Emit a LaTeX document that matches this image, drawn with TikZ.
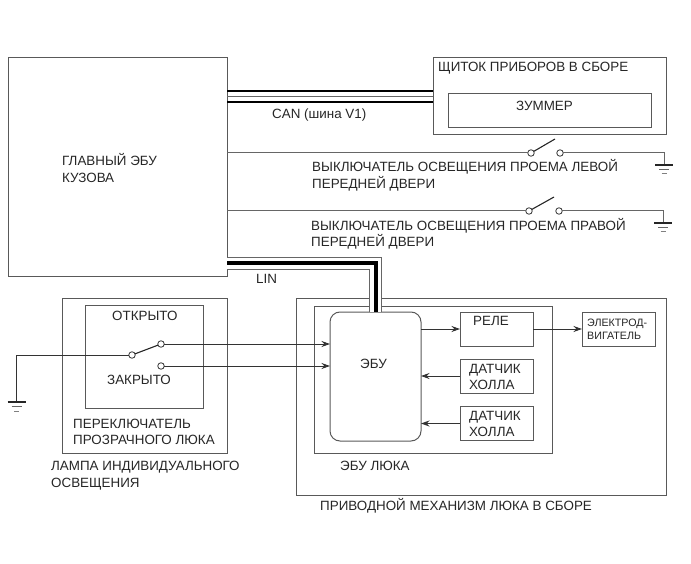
\documentclass[tikz,border=0pt]{standalone}
\usepackage{fontspec}
\setmainfont{Liberation Sans}
\usetikzlibrary{arrows.meta, positioning}

\definecolor{boxgray}{gray}{0.35}
\definecolor{wiregray}{gray}{0.4}

\tikzset{
	box/.style={draw=boxgray, line width=1pt, inner sep=0pt, outer sep=0pt},
	lbl/.style={anchor=west, inner sep=0pt, yshift=-0.8pt, align=left, text=black!85, font=\fontsize{13.4}{16.5}\selectfont},
	contact/.style={circle, draw=black!80, fill=white, line width=0.8pt, inner sep=0pt, minimum size=6.5pt, outer sep=0pt},
	wire/.style={draw=wiregray, line width=1pt},
	sigwire/.style={draw=black!80, line width=0.9pt, -{Stealth[length=8.5pt,width=6pt]}},
	blade/.style={draw=black!85, line width=1.1pt},
	gnd/.pic={
		\draw[black!85, line width=1.3pt] (-9,0) -- (9,0);
		\draw[black!60, line width=1pt] (-5,4.5) -- (5,4.5);
		\draw[black!50, line width=1pt] (-2.5,9) -- (2.5,9);
	}
}

\begin{document}
\begin{tikzpicture}[x=1pt, y=-1pt]
		\useasboundingbox (0,0) rectangle (691,564);
		
		\node[box, minimum width=219pt, minimum height=219pt] (mainecu) at (117.5,167.5) {};
		\node[box, minimum width=233pt, minimum height=77pt] (panel) at (549.5,96.5) {};
		\node[box, minimum width=203pt, minimum height=34pt] (buzzer) at (549.5,111) {};
		
		\node[box, minimum width=165pt, minimum height=155pt] (lamp) at (144.5,375.5) {};
		\node[box, minimum width=118.5pt, minimum height=103pt] (switchbox) at (144.25,356.5) {};
		
		\node[box, minimum width=370pt, minimum height=197pt] (actuator) at (481,396.5) {};
		\node[box, minimum width=238pt, minimum height=147pt] (roofecu) at (433,379.5) {};
		\node[box, rounded corners=10pt, minimum width=91pt, minimum height=129pt] (ecu) at (375.5,376.5) {};
		\node[box, minimum width=73pt, minimum height=34pt] (relay) at (496.5,329) {};
		\node[box, minimum width=73pt, minimum height=34pt] (motor) at (618.5,329) {};
		\node[box, minimum width=73pt, minimum height=34pt] (hallone) at (496.5,376) {};
		\node[box, minimum width=73pt, minimum height=34pt] (halltwo) at (496.5,423.5) {};
		
		% door switches
		\node[contact] (leftA) at (531,153) {};
		\node[contact] (leftB) at (560,153) {};
		\node[contact] (rightA) at (529,211) {};
		\node[contact] (rightB) at (559,211) {};
		\coordinate (leftfree) at (555,139);
		\coordinate (rightfree) at (554,197);
		\coordinate (leftgnd) at (664,165);
		\coordinate (rightgnd) at (663,223);
		
		\draw[wire] (leftA -| mainecu.east) -- (leftA);
		\draw[wire] (rightA -| mainecu.east) -- (rightA);
		\draw[wire] (leftB) -| (leftgnd);
		\draw[wire] (rightB) -| (rightgnd);
		\draw[blade] (leftA) -- (leftfree);
		\draw[blade] (rightA) -- (rightfree);
		\pic at (leftgnd) {gnd};
		\pic at (rightgnd) {gnd};
		
		% roof switch
		\node[contact] (swcom) at (132,355) {};
		\node[contact] (swopen) at (161,344) {};
		\node[contact] (swclosed) at (161,366) {};
		\coordinate (lampgnd) at (16.5,402);
		
		\draw[sigwire, -] (swcom) -| (lampgnd);
		\draw[blade] (swcom) -- (swopen);
		\draw[sigwire] (swopen) -- (swopen -| ecu.west);
		\draw[sigwire] (swclosed) -- (swclosed -| ecu.west);
		\pic at (lampgnd) {gnd};
		
		\draw[sigwire] (ecu.east |- relay.west) -- (relay.west);
		\draw[sigwire] (relay.east) -- (motor.west);
		\draw[sigwire] (hallone.west) -- (hallone.west -| ecu.east);
		\draw[sigwire] (halltwo.west) -- (halltwo.west -| ecu.east);
		
		% CAN
		\coordinate (canA) at (227,91);
		\coordinate (canB) at (227,96.5);
		\coordinate (canC) at (227,102);
		\draw[black, line width=2.2pt] (canA) -- (canA -| panel.west);
		\draw[black!60, line width=1.2pt] (canB) -- (canB -| panel.west);
		\draw[black, line width=1.7pt] (canC) -- (canC -| panel.west);
		
		% LIN
		\coordinate (linstart) at (227,263.5);
		\draw[black!60, line width=12.5pt] (linstart) -| (ecu.north);
		\draw[white, line width=10.5pt] (linstart) -| (ecu.north);
		\draw[black, line width=4pt] (linstart) -| (ecu.north);
		
		\node[lbl] (mainecutext) at (62,167) {ГЛАВНЫЙ ЭБУ\\КУЗОВА};
		\node[lbl] (cantext) at (272,114) {CAN (шина V1)};
		\node[lbl] (paneltext) at (438,67) {ЩИТОК ПРИБОРОВ В СБОРЕ};
		\node[lbl, anchor=center] (buzzertext) at (544.5,105) {ЗУММЕР};
		\node[lbl] (lefttext) at (312,174.5) {ВЫКЛЮЧАТЕЛЬ ОСВЕЩЕНИЯ ПРОЕМА ЛЕВОЙ\\ПЕРЕДНЕЙ ДВЕРИ};
		\node[lbl] (righttext) at (311,233) {ВЫКЛЮЧАТЕЛЬ ОСВЕЩЕНИЯ ПРОЕМА ПРАВОЙ\\ПЕРЕДНЕЙ ДВЕРИ};
		\node[lbl] (lintext) at (256,278) {LIN};
		\node[lbl] (opentext) at (112,315) {ОТКРЫТО};
		\node[lbl] (closedtext) at (107,379) {ЗАКРЫТО};
		\node[lbl] (switchtext) at (73,431) {ПЕРЕКЛЮЧАТЕЛЬ\\ПРОЗРАЧНОГО ЛЮКА};
		\node[lbl] (lamptext) at (51,475) {ЛАМПА ИНДИВИДУАЛЬНОГО\\ОСВЕЩЕНИЯ};
		\node[lbl] (ecutext) at (360,363) {ЭБУ};
		\node[lbl] (relaytext) at (473,320) {РЕЛЕ};
		\node[lbl] (hallonetext) at (469,376) {ДАТЧИК\\ХОЛЛА};
		\node[lbl] (halltwotext) at (469,423) {ДАТЧИК\\ХОЛЛА};
		\node[lbl, font=\fontsize{10.7}{13}\selectfont] (motortext) at (587,328.5) {ЭЛЕКТРОД-\\ВИГАТЕЛЬ};
		\node[lbl] (roofecutext) at (340,465) {ЭБУ ЛЮКА};
		\node[lbl] (actuatortext) at (320,505) {ПРИВОДНОЙ МЕХАНИЗМ ЛЮКА В СБОРЕ};
		
		\end{tikzpicture}
\end{document}
